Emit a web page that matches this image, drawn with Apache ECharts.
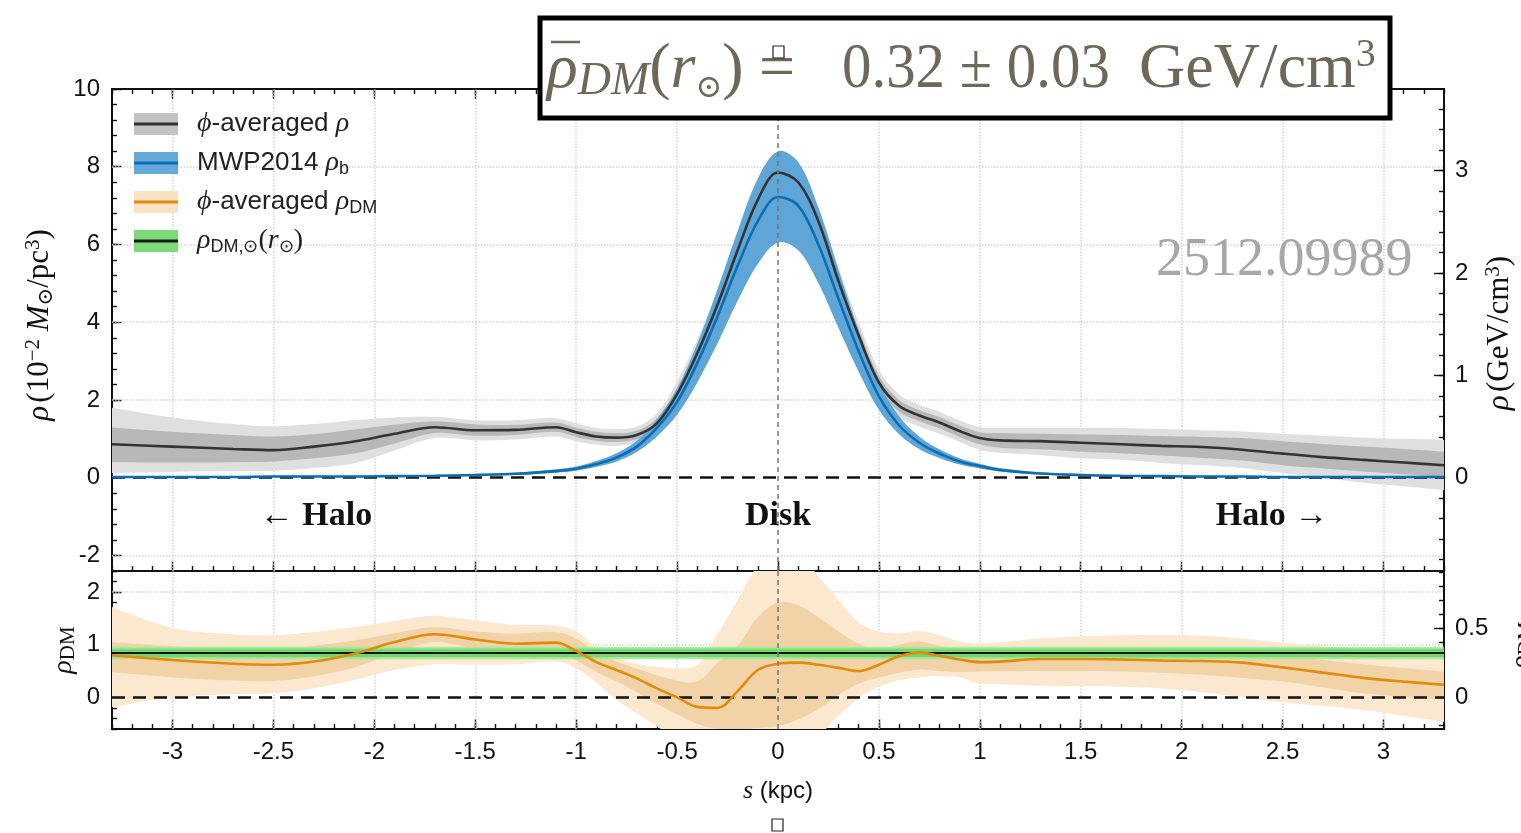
<!DOCTYPE html>
<html>
<head>
<meta charset="utf-8">
<script src="https://cdn.jsdelivr.net/npm/echarts@6/dist/echarts.min.js"></script>
<style>
  html, body { margin: 0; padding: 0; background: #fff; }
  #chart { width: 1521px; height: 833px; }
</style>
</head>
<body>
<div id="chart"></div>
<script>
// ---- sample positions along the line of sight, s (kpc) ----
const S = [-3.3, -3.0, -2.7, -2.5, -2.3, -2.1, -1.9, -1.7, -1.5, -1.3,
           -1.1, -1.0, -0.9, -0.8, -0.7, -0.6, -0.5, -0.4, -0.3, -0.2,
           -0.1, 0.0, 0.1, 0.2, 0.3, 0.4, 0.5, 0.6, 0.7, 0.8,
           0.9, 1.0, 1.1, 1.3, 1.5, 1.7, 1.9, 2.1, 2.3, 2.5,
           2.7, 2.9, 3.1, 3.3];

// phi-averaged total density (1e-2 Msun/pc^3): median and 1σ / 2σ bands
const rhoTotal = [0.86, 0.80, 0.74, 0.71, 0.80, 0.93, 1.13, 1.30, 1.22, 1.23,
                  1.30, 1.17, 1.06, 1.03, 1.10, 1.40, 2.15, 3.20, 4.45, 5.85,
                  7.15, 7.85, 7.60, 6.60, 5.05, 3.65, 2.45, 1.85, 1.60, 1.42,
                  1.20, 1.02, 0.96, 0.94, 0.90, 0.86, 0.82, 0.79, 0.72, 0.62,
                  0.53, 0.46, 0.39, 0.32];
const rhoTotalLo1 = [0.40, 0.39, 0.40, 0.42, 0.50, 0.62, 0.88, 1.15, 1.08, 1.10,
                     1.18, 1.05, 0.95, 0.92, 0.99, 1.27, 1.98, 3.02, 4.27, 5.67,
                     6.97, 7.67, 7.42, 6.42, 4.87, 3.47, 2.28, 1.70, 1.46, 1.27,
                     1.05, 0.86, 0.77, 0.73, 0.67, 0.63, 0.57, 0.51, 0.44, 0.32,
                     0.24, 0.16, 0.09, 0.02];
const rhoTotalHi1 = [1.29, 1.18, 1.10, 1.06, 1.12, 1.24, 1.36, 1.45, 1.37, 1.36,
                     1.42, 1.29, 1.18, 1.15, 1.21, 1.53, 2.32, 3.38, 4.63, 6.03,
                     7.33, 8.03, 7.78, 6.78, 5.23, 3.83, 2.62, 2.00, 1.74, 1.56,
                     1.34, 1.17, 1.15, 1.13, 1.11, 1.10, 1.07, 1.05, 1.02, 0.94,
                     0.87, 0.80, 0.74, 0.67];
const rhoTotalLo2 = [0.12, 0.15, 0.17, 0.18, 0.25, 0.37, 0.70, 1.02, 0.96, 0.98,
                     1.06, 0.94, 0.85, 0.82, 0.89, 1.15, 1.82, 2.85, 4.10, 5.50,
                     6.80, 7.50, 7.25, 6.25, 4.70, 3.30, 2.12, 1.55, 1.32, 1.13,
                     0.92, 0.72, 0.64, 0.58, 0.50, 0.46, 0.38, 0.32, 0.25, 0.12,
                     0.00, -0.13, -0.22, -0.32];
const rhoTotalHi2 = [1.80, 1.55, 1.38, 1.32, 1.38, 1.48, 1.55, 1.56, 1.48, 1.48,
                     1.53, 1.40, 1.28, 1.25, 1.31, 1.65, 2.48, 3.55, 4.80, 6.20,
                     7.50, 8.20, 7.95, 6.95, 5.40, 4.00, 2.78, 2.15, 1.88, 1.70,
                     1.47, 1.30, 1.28, 1.28, 1.28, 1.28, 1.25, 1.22, 1.19, 1.13,
                     1.08, 1.03, 1.00, 0.97];

// MWP2014 baryonic density model and its band
const rhoBaryon = [0.02, 0.02, 0.02, 0.03, 0.03, 0.03, 0.04, 0.05, 0.07, 0.10,
                   0.17, 0.23, 0.35, 0.52, 0.80, 1.28, 1.95, 2.95, 4.15, 5.45,
                   6.60, 7.22, 7.00, 6.00, 4.60, 3.25, 2.10, 1.35, 0.90, 0.62,
                   0.42, 0.30, 0.20, 0.11, 0.07, 0.05, 0.04, 0.03, 0.03, 0.02,
                   0.02, 0.02, 0.02, 0.02];
const rhoBaryonLo = [0.00, 0.00, 0.00, 0.01, 0.01, 0.01, 0.02, 0.03, 0.05, 0.07,
                     0.13, 0.18, 0.28, 0.42, 0.66, 1.06, 1.62, 2.45, 3.45, 4.55,
                     5.50, 6.05, 5.85, 5.00, 3.85, 2.72, 1.75, 1.12, 0.74, 0.51,
                     0.34, 0.24, 0.16, 0.08, 0.05, 0.03, 0.02, 0.01, 0.01, 0.00,
                     0.00, 0.00, 0.00, 0.00];
const rhoBaryonHi = [0.04, 0.04, 0.04, 0.05, 0.05, 0.05, 0.06, 0.07, 0.10, 0.13,
                     0.22, 0.29, 0.43, 0.63, 0.95, 1.50, 2.28, 3.45, 4.85, 6.35,
                     7.70, 8.40, 8.12, 6.95, 5.35, 3.78, 2.45, 1.58, 1.06, 0.73,
                     0.50, 0.36, 0.25, 0.14, 0.09, 0.07, 0.06, 0.05, 0.05, 0.04,
                     0.04, 0.04, 0.04, 0.04];

// phi-averaged dark-matter density and its 1σ / 2σ bands
const rhoDM = [0.80, 0.71, 0.64, 0.62, 0.68, 0.83, 1.05, 1.20, 1.10, 1.02,
               1.04, 0.88, 0.67, 0.52, 0.36, 0.17, 0.00, -0.18, -0.20, 0.12,
               0.52, 0.64, 0.66, 0.62, 0.56, 0.50, 0.62, 0.78, 0.85, 0.79,
               0.72, 0.67, 0.68, 0.73, 0.73, 0.72, 0.70, 0.69, 0.66, 0.57,
               0.47, 0.37, 0.30, 0.24];
const rhoDMLo1 = [0.48, 0.38, 0.32, 0.31, 0.40, 0.57, 0.84, 1.05, 0.93, 0.88,
                  0.86, 0.70, 0.48, 0.30, 0.10, -0.12, -0.32, -0.50, -0.60, -0.62,
                  -0.58, -0.55, -0.42, -0.22, 0.05, 0.26, 0.38, 0.47, 0.53, 0.50,
                  0.48, 0.49, 0.50, 0.50, 0.50, 0.49, 0.47, 0.43, 0.37, 0.30,
                  0.19, 0.08, 0.01, -0.05];
const rhoDMHi1 = [1.05, 0.97, 0.92, 0.90, 0.98, 1.08, 1.22, 1.33, 1.25, 1.21,
                  1.24, 1.12, 0.86, 0.68, 0.55, 0.42, 0.32, 0.30, 0.66, 0.98,
                  1.52, 1.80, 1.75, 1.52, 1.25, 1.02, 0.92, 1.00, 1.06, 0.98,
                  0.90, 0.82, 0.85, 0.92, 0.93, 0.94, 0.93, 0.90, 0.86, 0.80,
                  0.71, 0.63, 0.56, 0.49];
const rhoDMLo2 = [-0.18, 0.00, 0.06, 0.08, 0.17, 0.33, 0.52, 0.63, 0.62, 0.63,
                  0.68, 0.55, 0.28, -0.05, -0.30, -0.55, -0.80, -1.00, -1.10, -1.10,
                  -1.00, -0.95, -0.85, -0.72, -0.35, -0.02, 0.20, 0.33, 0.38, 0.40,
                  0.38, 0.26, 0.25, 0.22, 0.21, 0.20, 0.17, 0.10, 0.01, -0.09,
                  -0.16, -0.24, -0.35, -0.47];
const rhoDMHi2 = [1.72, 1.32, 1.20, 1.18, 1.24, 1.33, 1.45, 1.55, 1.46, 1.38,
                  1.36, 1.25, 0.95, 0.76, 0.64, 0.58, 0.55, 0.62, 1.20, 1.85,
                  2.50, 2.80, 2.75, 2.30, 1.85, 1.42, 1.25, 1.22, 1.26, 1.18,
                  1.06, 1.02, 1.05, 1.12, 1.16, 1.18, 1.19, 1.17, 1.12, 1.04,
                  0.97, 0.90, 0.87, 0.84];

// local dark-matter density at the solar radius (GeV/cm^3)
const rhoSunGeV = 0.32;
const rhoSunErrGeV = 0.03;

// axis ranges and tick values
const GEV_PER_UNIT = 0.3797;          // 1e-2 Msun/pc^3 expressed in GeV/cm^3
const S_RANGE = [-3.3, 3.3];
const TOP_RANGE = [-2.4, 10];
const BOT_RANGE = [-0.6, 2.4];
const xMajorTicks = [-3, -2.5, -2, -1.5, -1, -0.5, 0, 0.5, 1, 1.5, 2, 2.5, 3];
const topLeftTicks = [-2, 0, 2, 4, 6, 8, 10];
const topRightTicks = [0, 1, 2, 3];
const botLeftTicks = [0, 1, 2];
const botRightTicks = [0, 0.5];

function steps(a, b, d) {
  const out = [];
  const n = Math.round((b - a) / d);
  for (let i = 0; i <= n; i++) out.push(+(a + i * d).toFixed(4));
  return out;
}
const xMinorTicks = steps(-3.3, 3.3, 0.1);
const topLeftMinor = steps(-2.4, 10, 0.4);
const topRightMinor = steps(-0.8, 3.8, 0.2);
const botLeftMinor = steps(-0.6, 2.4, 0.2);
const botRightMinor = steps(-0.2, 0.9, 0.1);

const SANS = "'Liberation Sans', Arial, Helvetica, sans-serif";
const SERIF = "'Liberation Serif', 'DejaVu Serif', 'Times New Roman', serif";
const INK = '#111';
const SMOOTH = 0.35;
const LABEL_SIZE = 24;

const pts = ys => S.map((s, i) => [s, ys[i]]);

function xAx(grid, position, ticks, len, labels) {
  return {
    type: 'value', gridIndex: grid, position, min: S_RANGE[0], max: S_RANGE[1],
    axisLine: { show: true, onZero: false, lineStyle: { color: INK, width: 2 } },
    axisTick: { show: true, inside: true, length: len, customValues: ticks,
                lineStyle: { color: INK, width: 1.4 } },
    axisLabel: labels
      ? { show: true, customValues: ticks, margin: 11, color: INK, fontSize: LABEL_SIZE, fontFamily: SANS }
      : { show: false },
    splitLine: { show: false }
  };
}
function yAx(grid, position, range, ticks, len, labels, margin) {
  return {
    type: 'value', gridIndex: grid, position, min: range[0], max: range[1],
    axisLine: { show: true, onZero: false, lineStyle: { color: INK, width: 2 } },
    axisTick: { show: true, inside: true, length: len, customValues: ticks,
                lineStyle: { color: INK, width: 1.4 } },
    axisLabel: labels
      ? { show: true, customValues: ticks, margin: margin, color: INK, fontSize: LABEL_SIZE, fontFamily: SANS }
      : { show: false },
    splitLine: { show: false }
  };
}

const topGeV = TOP_RANGE.map(v => v * GEV_PER_UNIT);
const botGeV = BOT_RANGE.map(v => v * GEV_PER_UNIT);

const xAxis = [
  xAx(0, 'bottom', xMajorTicks, 10, false),   // 0
  xAx(0, 'top', xMajorTicks, 10, false),      // 1
  xAx(0, 'bottom', xMinorTicks, 5, false),    // 2
  xAx(0, 'top', xMinorTicks, 5, false),       // 3
  xAx(1, 'bottom', xMajorTicks, 10, true),    // 4
  xAx(1, 'bottom', xMinorTicks, 5, false)     // 5
];
const yAxis = [
  yAx(0, 'left', TOP_RANGE, topLeftTicks, 10, true, 12),     // 0
  yAx(0, 'left', TOP_RANGE, topLeftMinor, 5, false),         // 1
  yAx(0, 'right', topGeV, topRightTicks, 10, true, 11),      // 2
  yAx(0, 'right', topGeV, topRightMinor, 5, false),          // 3
  yAx(1, 'left', BOT_RANGE, botLeftTicks, 10, true, 12),     // 4
  yAx(1, 'left', BOT_RANGE, botLeftMinor, 5, false),         // 5
  yAx(1, 'right', botGeV, botRightTicks, 10, true, 11),      // 6
  yAx(1, 'right', botGeV, botRightMinor, 5, false)           // 7
];

// Bezier commands through pixel points, same scheme as the line series' smoothing
function smoothCmds(p, k) {
  let out = '';
  let cp0 = p[0];
  for (let i = 1; i < p.length; i++) {
    const prev = p[i - 1], cur = p[i], next = p[Math.min(i + 1, p.length - 1)];
    const vx = next[0] - prev[0], vy = next[1] - prev[1];
    const l0 = Math.hypot(cur[0] - prev[0], cur[1] - prev[1]);
    const l1 = Math.hypot(next[0] - cur[0], next[1] - cur[1]);
    const r = (l0 + l1) > 0 ? l1 / (l0 + l1) : 0.5;
    const cp1 = [cur[0] - vx * k * (1 - r), cur[1] - vy * k * (1 - r)];
    out += ` C ${cp0[0]} ${cp0[1]} ${cp1[0]} ${cp1[1]} ${cur[0]} ${cur[1]}`;
    cp0 = [cur[0] + vx * k * r, cur[1] + vy * k * r];
  }
  return out;
}

// filled band between two curves, placed through the axes' own scales
function band(xi, yi, lo, hi, color, z) {
  return {
    type: 'custom', xAxisIndex: xi, yAxisIndex: yi, z, silent: true, clip: true, animation: false,
    data: [[S[0], lo[0]]],
    renderItem: (params, api) => {
      const up = S.map((s, i) => api.coord([s, hi[i]]));
      const dn = S.map((s, i) => api.coord([s, lo[i]])).reverse();
      const d = `M ${up[0][0]} ${up[0][1]}` + smoothCmds(up, SMOOTH) +
                ` L ${dn[0][0]} ${dn[0][1]}` + smoothCmds(dn, SMOOTH) + ' Z';
      return { type: 'path', shape: { pathData: d }, style: { fill: color } };
    }
  };
}

const LINE = { type: 'line', showSymbol: false, symbol: 'none', smooth: SMOOTH, silent: true, animation: false };
function curve(xi, yi, data, color, width, z) {
  return Object.assign({}, LINE, { xAxisIndex: xi, yAxisIndex: yi, data, z,
    lineStyle: { color, width } });
}
function marks(xi, yi, lines, style, z) {
  return { type: 'line', xAxisIndex: xi, yAxisIndex: yi, data: [], silent: true,
    markLine: { silent: true, symbol: ['none', 'none'], label: { show: false }, z,
      animation: false, lineStyle: style, data: lines } };
}

const GRAY_LIGHT = '#dfdfdf', GRAY_DARK = '#b8b8b8';
const BLUE_BAND = '#5ea6d7';
const ORANGE_LIGHT = '#fce7cf', ORANGE_DARK = '#f2d3a8';

const gridDots = { type: 'dotted', color: '#d2d2d2', width: 1.5 };
const zeroDash = { type: [13, 8], color: '#111', width: 2.6 };
const diskDash = { type: [5, 4], color: '#777', width: 1.5 };

const xGridVals = xMajorTicks.filter(v => v !== 0).map(v => ({ xAxis: v }));

// solar-radius band: solid 1σ core with a soft halo around it
const sunMid = rhoSunGeV / GEV_PER_UNIT;
const sunErr = rhoSunErrGeV / GEV_PER_UNIT;

const series = [
  // upper panel
  marks(0, 0, xGridVals.concat([-2, 2, 4, 6, 8].map(v => ({ yAxis: v }))), gridDots, 1),
  band(0, 0, rhoTotalLo2, rhoTotalHi2, GRAY_LIGHT, 2),
  band(0, 0, rhoTotalLo1, rhoTotalHi1, GRAY_DARK, 2.1),
  band(0, 0, rhoBaryonLo, rhoBaryonHi, BLUE_BAND, 2.2),
  marks(0, 0, [{ yAxis: 0 }], zeroDash, 3),
  marks(0, 0, [{ xAxis: 0 }], diskDash, 6),
  curve(0, 0, pts(rhoTotal), '#333', 2.6, 4),
  curve(0, 0, pts(rhoBaryon), '#0d6db2', 2.6, 4.1),

  // lower panel
  marks(4, 4, xGridVals.concat([1, 2].map(v => ({ yAxis: v }))), gridDots, 1),
  band(4, 4, rhoDMLo2, rhoDMHi2, ORANGE_LIGHT, 2),
  band(4, 4, rhoDMLo1, rhoDMHi1, ORANGE_DARK, 2.1),
  {
    type: 'line', xAxisIndex: 4, yAxisIndex: 4, data: [], silent: true,
    markArea: { silent: true, z: 3, animation: false, label: { show: false },
      data: [
        [{ yAxis: sunMid - 1.5 * sunErr, itemStyle: { color: '#a3e89c', opacity: 0.85 } }, { yAxis: sunMid + 1.5 * sunErr }],
        [{ yAxis: sunMid - sunErr, itemStyle: { color: '#6fd868', opacity: 0.95 } }, { yAxis: sunMid + sunErr }]
      ] }
  },
  marks(4, 4, [{ yAxis: sunMid }], { type: 'solid', color: '#111', width: 2 }, 3.5),
  marks(4, 4, [{ yAxis: 0 }], zeroDash, 3.6),
  marks(4, 4, [{ xAxis: 0 }], diskDash, 6),
  curve(4, 4, pts(rhoDM), '#e28a0c', 2.6, 4)
];

// ---- annotation layer ----
const TITLE_COLOR = '#6f6757';
const legendItems = [
  { y: 124, fill: '#c3c3c3', line: '#333333', text: '{m|ϕ}-averaged {m|ρ}' },
  { y: 163, fill: '#64a9d9', line: '#0d6db2', text: 'MWP2014 {m|ρ}{s|b}' },
  { y: 202, fill: '#fbe2c3', line: '#e28a0c', text: '{m|ϕ}-averaged {m|ρ}{s|DM}' },
  { y: 241, fill: '#7dda78', line: '#1a1a1a', text: '{m|ρ}{s|DM,⊙}{r|(}{m|r}{s|⊙}{r|)}' }
];
const legendRich = {
  m: { fontFamily: SERIF, fontStyle: 'italic', fontSize: 28, fill: '#222', lineHeight: 30 },
  r: { fontFamily: SERIF, fontSize: 28, fill: '#222', lineHeight: 30 },
  s: { fontFamily: SANS, fontSize: 18, fill: '#222', verticalAlign: 'bottom', lineHeight: 20 }
};

const graphics = [];
legendItems.forEach(it => {
  graphics.push({ type: 'rect', z: 100, shape: { x: 134, y: it.y - 11, width: 44, height: 22 },
    style: { fill: it.fill } });
  graphics.push({ type: 'line', z: 101, shape: { x1: 134, y1: it.y, x2: 178, y2: it.y },
    style: { stroke: it.line, lineWidth: 3 } });
  graphics.push({ type: 'text', z: 101, x: 197, y: it.y,
    style: { text: it.text, fontFamily: SANS, fontSize: 26, fill: '#222',
      verticalAlign: 'middle', align: 'left', rich: legendRich } });
});

// headline box
const titleRich = {
  it: { fontFamily: SERIF, fontStyle: 'italic', fontSize: 64, fill: TITLE_COLOR, lineHeight: 70 },
  n: { fontFamily: SERIF, fontSize: 64, fill: TITLE_COLOR, lineHeight: 70 },
  sub: { fontFamily: SERIF, fontStyle: 'italic', fontSize: 46, fill: TITLE_COLOR, verticalAlign: 'bottom', lineHeight: 42 },
  sun: { fontFamily: SERIF, fontSize: 32, fill: TITLE_COLOR, verticalAlign: 'bottom', lineHeight: 30 },
  sup: { fontFamily: SERIF, fontSize: 40, fill: TITLE_COLOR, verticalAlign: 'top', lineHeight: 34 }
};
function titlePart(x, text, scaleX) {
  return { type: 'text', z: 101, x, y: 70, scaleX: scaleX || 1,
    style: { text, fontFamily: SERIF, fontSize: 64, fill: TITLE_COLOR,
      verticalAlign: 'middle', align: 'left', rich: titleRich } };
}
graphics.push({ type: 'rect', z: 100, shape: { x: 540, y: 18, width: 850, height: 100 },
  style: { fill: '#fff', stroke: '#000', lineWidth: 5 } });
graphics.push(titlePart(547, '{it|ρ}{sub|DM}{n|(}{it|r}{sun|⊙}{n|)}'));
graphics.push(titlePart(759, '{n|=}'));
graphics.push(titlePart(842, '{n|0.32 ± 0.03}', 0.92));
graphics.push(titlePart(1139, '{n|GeV/cm}{sup|3}'));
graphics.push({ type: 'line', z: 102, shape: { x1: 551, y1: 42, x2: 580, y2: 42 },
  style: { stroke: TITLE_COLOR, lineWidth: 2.5 } });
graphics.push({ type: 'rect', z: 102, shape: { x: 773, y: 46, width: 11, height: 12 },
  style: { fill: '#fff', stroke: '#222', lineWidth: 1.2 } });

// identifier text
graphics.push({ type: 'text', z: 100, x: 1156, y: 261,
  style: { text: '2512.09989', fontFamily: SERIF, fontSize: 54, fill: '#a7a7a7',
    verticalAlign: 'middle', align: 'left' } });

// region labels
[['← Halo', 316], ['Disk', 778], ['Halo →', 1272]].forEach(([t, x]) => {
  graphics.push({ type: 'text', z: 100, x, y: 516,
    style: { text: t, fontFamily: SERIF, fontWeight: 'bold', fontSize: 34, fill: '#111',
      align: 'center', verticalAlign: 'middle' } });
});

// axis titles
const nameRich = {
  m: { fontFamily: SERIF, fontStyle: 'italic', fontSize: 31, fill: '#111', lineHeight: 34 },
  r: { fontFamily: SERIF, fontSize: 31, fill: '#111', lineHeight: 34 },
  sup: { fontFamily: SERIF, fontSize: 21, fill: '#111', verticalAlign: 'top', lineHeight: 24 },
  sub: { fontFamily: SERIF, fontSize: 21, fill: '#111', verticalAlign: 'bottom', lineHeight: 24 },
  dm: { fontFamily: SERIF, fontSize: 21, fill: '#111', verticalAlign: 'bottom', lineHeight: 24 },
  m2: { fontFamily: SERIF, fontStyle: 'italic', fontSize: 28, fill: '#111', lineHeight: 30 }
};
graphics.push({ type: 'text', z: 100, x: 40, y: 325, rotation: Math.PI / 2,
  style: { text: '{m|ρ} {r|(10}{sup|−2}{r| }{m|M}{sub|⊙}{r|/pc}{sup|3}{r|)}', fill: '#111',
    align: 'center', verticalAlign: 'middle', rich: nameRich } });
graphics.push({ type: 'text', z: 100, x: 1500, y: 333, rotation: Math.PI / 2,
  style: { text: '{m|ρ} {r|(GeV/cm}{sup|3}{r|)}', fill: '#111',
    align: 'center', verticalAlign: 'middle', rich: nameRich } });
graphics.push({ type: 'text', z: 100, x: 64, y: 650, rotation: Math.PI / 2,
  style: { text: '{m2|ρ}{dm|DM}', fill: '#111', align: 'center', verticalAlign: 'middle', rich: nameRich } });
graphics.push({ type: 'text', z: 100, x: 1522, y: 645, rotation: Math.PI / 2,
  style: { text: '{m2|ρ}{dm|DM}', fill: '#111', align: 'center', verticalAlign: 'middle', rich: nameRich } });
graphics.push({ type: 'text', z: 100, x: 778, y: 791,
  style: { text: '{m|s} (kpc)', fontFamily: SANS, fontSize: 24, fill: '#111',
    align: 'center', verticalAlign: 'middle',
    rich: { m: { fontFamily: SERIF, fontStyle: 'italic', fontSize: 26, fill: '#111' } } } });
graphics.push({ type: 'rect', z: 100, shape: { x: 772, y: 819, width: 11, height: 12 },
  style: { fill: '#fff', stroke: '#222', lineWidth: 1.2 } });

const chart = echarts.init(document.getElementById('chart'), null, { renderer: 'canvas' });
chart.setOption({
  animation: false,
  backgroundColor: '#fff',
  grid: [
    { left: 112, top: 89, width: 1332, height: 482 },
    { left: 112, top: 571, width: 1332, height: 158 }
  ],
  xAxis,
  yAxis,
  series,
  graphic: { elements: graphics }
});
</script>
</body>
</html>
